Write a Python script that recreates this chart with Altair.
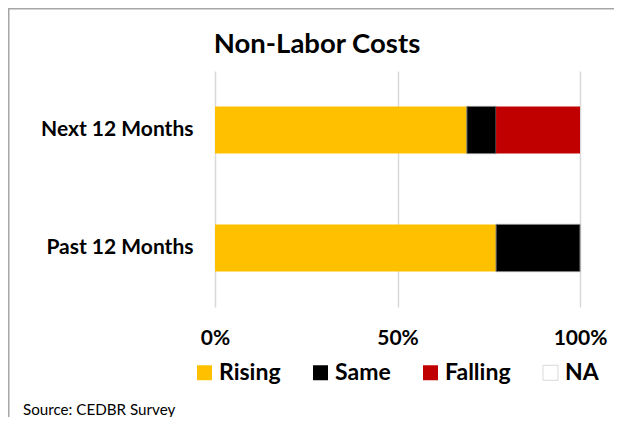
import altair as alt
import pandas as pd

TITLE = "Non-Labor Costs"
SOURCE = "Source: CEDBR Survey"
PERIODS = ["Next 12 Months", "Past 12 Months"]
CATEGORIES = ["Rising", "Same", "Falling", "NA"]
COLORS = ["#FFC000", "#000000", "#C00000", "#FFFFFF"]
NEXT_VALUES = [69, 8, 23, 0]
PAST_VALUES = [77, 23, 0, 0]
X_TICKS = [0, 50, 100]

rows = []
for period, vals in zip(PERIODS, [NEXT_VALUES, PAST_VALUES]):
    for i, (cat, v) in enumerate(zip(CATEGORIES, vals)):
        rows.append({"period": period, "category": cat, "value": v, "order": i})
df = pd.DataFrame(rows)

FONT = "Lato"

bars = alt.Chart(df).mark_bar().encode(
    y=alt.Y("period:N", sort=PERIODS, title=None,
            scale=alt.Scale(paddingInner=0.6, paddingOuter=0.3),
            axis=alt.Axis(domain=False, ticks=False, labelFontSize=21, labelFontWeight="bold",
                          labelFont=FONT, labelColor="#000000", labelPadding=22, grid=False)),
    x=alt.X("value:Q", stack="zero", title=None,
            scale=alt.Scale(domain=[0, 100], nice=False),
            axis=alt.Axis(values=X_TICKS, labelExpr="datum.value + '%'", domain=False, ticks=False,
                          labelFlush=False, labelOverlap=False,
                          grid=True, gridColor="#d9d9d9", gridWidth=1.5,
                          labelFontSize=21, labelFontWeight="bold", labelFont=FONT,
                          labelColor="#000000", labelPadding=20)),
    color=alt.Color("category:N", scale=alt.Scale(domain=CATEGORIES, range=COLORS), title=None,
                    legend=alt.Legend(orient="none", direction="horizontal", legendX=-22, legendY=290,
                                      symbolType="square", symbolSize=225, symbolStrokeWidth=1,
                                      symbolStrokeColor={"expr": "datum.label === 'NA' ? '#d9d9d9' : 'transparent'"},
                                      labelFontSize=23, labelFontWeight="bold", labelFont=FONT,
                                      labelColor="#000000", labelOffset=3, columnPadding=28)),
    order=alt.Order("order:Q"),
    stroke=alt.condition("datum.category === 'Same'", alt.value("#7f7f7f"), alt.value("transparent")),
    strokeWidth=alt.value(1),
)

one = pd.DataFrame({"a": [0]})
frame_top = alt.Chart(one).mark_rule(stroke="#a6a6a6", strokeWidth=1.5, clip=False).encode(
    x=alt.value(-207), x2=alt.value(399), y=alt.value(-62.25)
)
frame_left = alt.Chart(one).mark_rule(stroke="#a6a6a6", strokeWidth=1.5, clip=False).encode(
    x=alt.value(-206.25), y=alt.value(-63), y2=alt.value(346)
)
title = alt.Chart(one).mark_text(text=TITLE, fontSize=27.5, fontWeight="bold", font=FONT,
                                 align="center", baseline="alphabetic", color="#000000").encode(
    x=alt.value(102), y=alt.value(-18)
)
source = alt.Chart(one).mark_text(text=SOURCE, fontSize=15.2, font=FONT, align="left",
                                  baseline="middle", color="#000000").encode(
    x=alt.value(-192), y=alt.value(339)
)

chart = alt.layer(frame_top, frame_left, bars, title, source).properties(
    width=365, height=236,
    autosize=alt.AutoSizeParams(type="none"),
    padding={"left": 207, "top": 63, "right": 34, "bottom": 110},
).configure_view(stroke=None)

chart.save("out.html", embed_options={"renderer": "svg", "actions": False})
